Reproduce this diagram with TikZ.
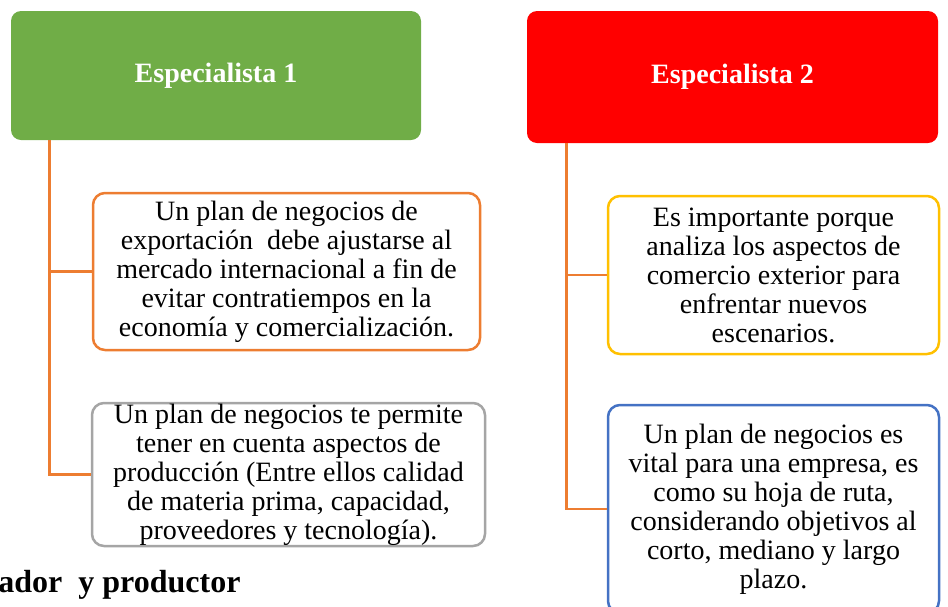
\documentclass[tikz,border=0pt]{standalone}
\usepackage{fontspec}
\setmainfont{Liberation Serif}
\definecolor{cgreen}{HTML}{70AD47}
\definecolor{cred}{HTML}{FF0000}
\definecolor{corange}{HTML}{ED7D31}
\definecolor{cgray}{HTML}{A5A5A5}
\definecolor{cyellow}{HTML}{FFC000}
\definecolor{cblue}{HTML}{4472C4}
\begin{document}
\begin{tikzpicture}[x=0.5pt,y=-0.5pt,
  head/.style={rounded corners=5pt, inner sep=0pt, text=white,
    font=\fontsize{14}{16}\selectfont\bfseries, align=center},
  leaf/.style={rounded corners=6pt, draw, line width=1.25pt, fill=white, inner sep=0pt,
    font=\fontsize{14}{14.5}\selectfont, align=center},
  conn/.style={draw=corange, line width=1.25pt}]
\useasboundingbox (0,0) rectangle (948,606);
\clip (0,0) rectangle (948,606);
% headers
\node[head, fill=cgreen, minimum width=205pt, minimum height=64.5pt] (g1) at (216,75.5) {Especialista 1};
\node[head, fill=cred, minimum width=205.5pt, minimum height=66pt] (r2) at (732.5,77) {Especialista 2};
% left branch coordinates
\path (g1.south west) ++(39,0) coordinate (l1);
\path (r2.south west) ++(40,0) coordinate (l2);
% leaves
\node[leaf, draw=corange, minimum width=193.5pt, minimum height=78.5pt] (b1) at (286.5,271.5)
 {Un plan de negocios de\\ exportación\ \ debe ajustarse al\\ mercado internacional a fin de\\ evitar contratiempos en la\\ economía y comercialización.};
\node[leaf, draw=cgray, minimum width=196.5pt, minimum height=71.5pt] (b2) at (288.5,474.5)
 {Un plan de negocios te permite\\ tener en cuenta aspectos de\\ producción (Entre ellos calidad\\ de materia prima, capacidad,\\ proveedores y tecnología).};
\node[leaf, draw=cyellow, minimum width=165.5pt, minimum height=79pt] (b3) at (773.5,275)
 {Es importante porque\\ analiza los aspectos de\\ comercio exterior para\\ enfrentar nuevos\\ escenarios.};
\node[leaf, draw=cblue, minimum width=165.5pt, minimum height=104pt] (b4) at (773.5,509)
 {Un plan de negocios es\\ vital para una empresa, es\\ como su hoja de ruta,\\ considerando objetivos al\\ corto, mediano y largo\\ plazo.};
% connectors
\draw[conn] (l1) |- (b1.west);
\draw[conn] (l1) |- (b2.west);
\draw[conn] (l2) |- (b3.west);
\draw[conn] (l2) |- (b4.west);
% bottom text
\node[anchor=west, inner sep=0pt, font=\fontsize{16}{18}\selectfont\bfseries] (bt) at (-2,585) {ador\ \ y productor};
\end{tikzpicture}
\end{document}
